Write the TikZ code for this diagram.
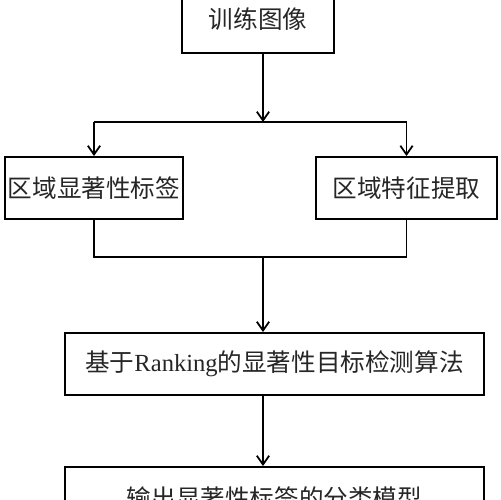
\documentclass[tikz,border=0pt]{standalone}
\usepackage{fontspec}
\setmainfont{Liberation Serif}
\newfontfamily\cjk{Noto Sans CJK SC}
\usetikzlibrary{arrows.meta,positioning}

\begin{document}
\begin{tikzpicture}[
    x=0.02cm, y=-0.02cm,
    every node/.style={draw, rectangle, line width=1.1pt, minimum height=1.24cm, inner sep=0pt, text=black!85, font=\fontsize{14}{16}\selectfont\cjk},
    arrow/.style={-{Straight Barb[length=5pt,width=7pt]}, line width=1pt},
    link/.style={line width=1pt}
]
\useasboundingbox (0,0) rectangle (500,500);
\clip (0,0) rectangle (500,500);

% Boxes
\node (train) [minimum width=3.04cm, minimum height=1.36cm] at (258,19) {训练图像};
\node (label) [minimum width=3.56cm] at (94,188) {区域显著性标签};
\node (feat) [minimum width=3.62cm] at (406.5,188) {区域特征提取};
\node (algo) [minimum width=8.38cm] at (274.5,364) {基于{\rmfamily Ranking}的显著性目标检测算法};
\node (out) [minimum width=8.38cm] at (274.5,498) {输出显著性标签的分类模型};

% Junctions
\coordinate (split) at (263,122);
\coordinate (merge) at (263,257);

% Split
\draw[arrow] (train.south -| split) -- (split);
\draw[link] (label |- split) -- (feat |- split);
\draw[arrow] (label |- split) -- (label.north);
\draw[arrow] (feat |- split) -- (feat.north);

% Merge
\draw[link] (label.south) -- (label |- merge) -- (feat |- merge) -- (feat.south);
\draw[arrow] (merge) -- (algo.north -| merge);
\draw[arrow] (algo.south -| merge) -- (out.north -| merge);

\end{tikzpicture}
\end{document}
